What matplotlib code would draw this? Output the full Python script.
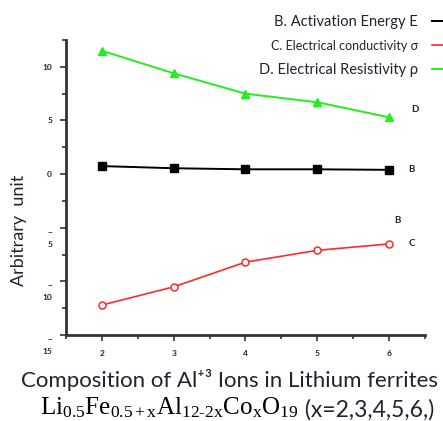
import matplotlib
matplotlib.use("Agg")
import matplotlib.pyplot as plt
from matplotlib.ticker import MultipleLocator

plt.rcParams["font.family"] = ["Lato", "DejaVu Sans"]
plt.rcParams["mathtext.fontset"] = "custom"
plt.rcParams["mathtext.rm"] = "Liberation Serif"
plt.rcParams["mathtext.it"] = "Liberation Serif:italic"

# composition x of Al+3 ions
x_comp = [2, 3, 4, 5, 6]

# B. activation energy, C. conductivity, D. resistivity (arbitrary unit)
activation_energy = [0.75, 0.55, 0.45, 0.45, 0.4]
conductivity = [-12.2, -10.5, -8.2, -7.1, -6.5]
resistivity = [11.5, 9.4, 7.5, 6.7, 5.3]

series_names = [
    "B. Activation Energy E",
    "C. Electrical conductivity σ",
    "D. Electrical Resistivity ρ",
]

y_ticks = [-15, -10, -5, 0, 5, 10]
y_tick_labels = ["−\n15", "−\n10", "−\n5", "0", "5", "10"]

TEXT = "#1f2430"

fig = plt.figure(figsize=(4.43, 4.21), dpi=100)
ax = fig.add_axes([0.149, 0.204, 0.81, 0.701])

lb, = ax.plot(x_comp, activation_energy, color="black", marker="s",
              markersize=5.5, linewidth=1.4)
lc, = ax.plot(x_comp, conductivity, color="#ff2a2a", marker="o",
              markersize=5, markerfacecolor="white", markeredgewidth=1.1,
              linewidth=1.2)
ld, = ax.plot(x_comp, resistivity, color="#22ee22", marker="^",
              markersize=6, linewidth=1.4)

ax.set_xlim(1.5, 6.5)
ax.set_ylim(-15, 12.5)
ax.set_xticks(x_comp)
ax.xaxis.set_minor_locator(MultipleLocator(0.5))
ax.set_yticks(y_ticks)
ax.set_yticklabels(y_tick_labels)
ax.yaxis.set_minor_locator(MultipleLocator(2.5))

ax.tick_params(which="both", direction="out", length=4, width=1.2,
               color="#333333", labelsize=6, labelcolor=TEXT)
ax.tick_params(which="minor", length=3)
ax.tick_params(axis="x", pad=7)
ax.tick_params(axis="y", pad=6)

for lab, v in zip(ax.get_yticklabels(), y_ticks):
    if v < 0:
        lab.set_va("top")
        lab.set_linespacing(2.0)
        lab.set_y(v + 0.5)
for t in ax.get_xticklabels() + ax.get_yticklabels():
    t.set_fontweight("bold")

for s in ["top", "right"]:
    ax.spines[s].set_visible(False)
for s in ["left", "bottom"]:
    ax.spines[s].set_linewidth(2)
    ax.spines[s].set_color("#333333")

# curve tags
ax.text(6.36, 6.0, "D", fontsize=7, fontweight="bold", color=TEXT,
        ha="center", va="center")
ax.text(6.32, 0.4, "B", fontsize=7, fontweight="bold", color=TEXT,
        ha="center", va="center")
ax.text(6.12, -4.3, "B", fontsize=7, fontweight="bold", color=TEXT,
        ha="center", va="center")
ax.text(6.32, -6.45, "C", fontsize=7, fontweight="bold", color=TEXT,
        ha="center", va="center")

ax.set_ylabel("Arbitrary  unit", fontsize=13, color=TEXT)
ax.yaxis.set_label_coords(-0.11, 0.356)

leg = fig.legend([lb, lc, ld], series_names, loc="upper right",
                 bbox_to_anchor=(1.045, 0.995), frameon=False,
                 markerfirst=False, handlelength=1.2, handletextpad=1.0,
                 labelspacing=0.75, fontsize=10.5)
for h in leg.legend_handles:
    h.set_marker("")
for t in leg.get_texts():
    t.set_color(TEXT)
leg.get_texts()[1].set_fontsize(9)

fig.text(0.517, 0.097, "Composition of Al⁺³ Ions in Lithium ferrites",
         fontsize=16, color=TEXT, ha="center", va="center")
formula = fig.text(0.09, 0.015,
                   r"$\mathrm{Li_{0.5}Fe_{0.5+x}Al_{12\text{-}2x}Co_xO_{19}}$",
                   fontsize=18, color="black", ha="left", va="baseline")
ax.annotate(" (x=2,3,4,5,6,)", xy=(1, 0), xycoords=formula,
            fontsize=16.5, color=TEXT, ha="left", va="bottom",
            annotation_clip=False)

fig.savefig("out.png", dpi=100)
